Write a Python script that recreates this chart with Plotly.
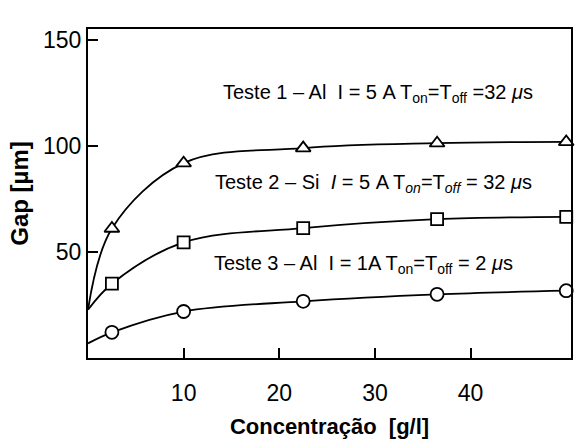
import plotly.graph_objects as go

# Concentration (g/l) of the measured points
concentracao = [2.5, 10, 22.5, 36.5, 50]

# Gap (um) for each test
teste1_al_5a = [61.0, 91.8, 98.9, 101.2, 101.8]
teste2_si_5a = [35.0, 54.5, 61.2, 65.4, 66.5]
teste3_al_1a = [12.1, 21.9, 26.7, 30.0, 31.7]

# where each fitted curve meets the left axis (x = 0)
inicio_curva = {"t1": 22.7, "t2": 22.7, "t3": 6.9}

x_ticks = [10, 20, 30, 40]
y_ticks = [50, 100, 150]

labels = [
    ("Teste 1 &#8211; Al&nbsp;&nbsp;I = 5&nbsp;A T<sub>on</sub>=T<sub>off</sub> =32 <i>&#956;</i>s", 30.3, 124.5),
    ("Teste 2 &#8211; Si&nbsp;&nbsp;<i>I</i> = 5&nbsp;A T<sub><i>on</i></sub>=T<sub><i>off</i></sub> = 32 <i>&#956;</i>s", 29.8, 82.3),
    ("Teste 3 &#8211; Al&nbsp;&nbsp;I = 1A T<sub>on</sub>=T<sub>off</sub> = 2 <i>&#956;</i>s", 28.8, 44.1),
]

FONT = "Liberation Sans, Arial, Helvetica, sans-serif"

series = [
    (teste1_al_5a, inicio_curva["t1"], "triangle-up"),
    (teste2_si_5a, inicio_curva["t2"], "square"),
    (teste3_al_1a, inicio_curva["t3"], "circle"),
]

fig = go.Figure()
for vals, start, sym in series:
    fig.add_trace(go.Scatter(
        x=[0] + concentracao, y=[start] + vals,
        mode="lines", line=dict(color="black", width=1.8, shape="spline", smoothing=1.0),
        showlegend=False, hoverinfo="skip",
    ))
    fig.add_trace(go.Scatter(
        x=concentracao, y=vals, mode="markers",
        marker=dict(symbol=sym, size=13 if sym != "square" else 12, color="white",
                    line=dict(color="black", width=1.8)),
        showlegend=False, cliponaxis=False,
    ))

for txt, xx, yy in labels:
    fig.add_annotation(x=xx, y=yy, text=txt, showarrow=False,
                       font=dict(family=FONT, size=20, color="black"))

fig.update_layout(
    width=577, height=442,
    margin=dict(l=88, r=4, t=29, b=84),
    paper_bgcolor="white", plot_bgcolor="white",
    font=dict(family=FONT, color="black"),
    xaxis=dict(
        range=[0, 50.5], tickvals=x_ticks, ticks="inside", ticklen=10,
        tickwidth=1.5, tickcolor="black", showgrid=False, zeroline=False,
        showline=True, linecolor="black", linewidth=2, mirror=True,
        tickfont=dict(size=23, family=FONT), ticklabelstandoff=13,
        title=dict(text="<b>Concentração  [g/l]</b>", font=dict(size=22, family=FONT), standoff=14),
    ),
    yaxis=dict(
        range=[0, 155], tickvals=y_ticks, ticks="inside", ticklen=10,
        tickwidth=1.5, tickcolor="black", showgrid=False, zeroline=False,
        showline=True, linecolor="black", linewidth=2, mirror=True,
        tickfont=dict(size=23, family=FONT),
        title=dict(text="<b>Gap [µm]</b>", font=dict(size=24, family=FONT), standoff=8),
    ),
)

fig.write_html("out.html")
